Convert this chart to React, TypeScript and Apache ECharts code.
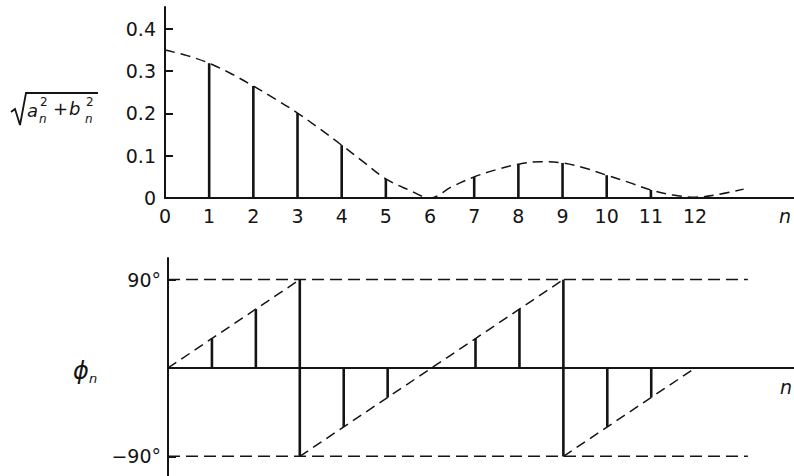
import React, { useEffect, useRef } from "react";
import * as echarts from "echarts";

// Harmonic index n
const harmonics = [1, 2, 3, 4, 5, 6, 7, 8, 9, 10, 11, 12];
// Amplitude spectrum sqrt(a_n^2 + b_n^2)
const amplitude = [0.319, 0.265, 0.201, 0.125, 0.045, 0, 0.05, 0.08, 0.083, 0.054, 0.019, 0];
// Continuous envelope of the amplitude spectrum
const envelopeN = [0, 0.5, 1, 1.5, 2, 2.5, 3, 3.5, 4, 4.5, 5, 5.5, 6, 6.5, 7, 7.5, 8, 8.5, 9, 9.5, 10, 10.5, 11, 11.5, 12, 12.5, 13.1];
const envelopeAmp = [0.35, 0.337, 0.319, 0.294, 0.265, 0.234, 0.201, 0.164, 0.125, 0.085, 0.045, 0.02, 0, 0.027, 0.05, 0.067, 0.08, 0.086, 0.083, 0.071, 0.054, 0.037, 0.019, 0.007, 0.002, 0.008, 0.021];
// Phase spectrum in degrees (±90 marks a jump from +90 to -90)
const phaseDeg = [30, 60, 90, -60, -30, 0, 30, 60, 90, -60, -30, 0];
// Linear-phase trend, wrapped into [-90, 90]
const phaseTrend: number[][][] = [
  [[0, 0], [3, 90]],
  [[3, -90], [9, 90]],
  [[9, -90], [12, 0]],
];
// Dashed limit lines at ±90°
const phaseLimits = [90, -90];
const limitEndN = 13.2;
// Axis tick values
const ampTicks = [0, 0.1, 0.2, 0.3, 0.4];
const nTicks = [0, 1, 2, 3, 4, 5, 6, 7, 8, 9, 10, 11, 12];
const phaseTicks = [-90, 90];

const INK = "#141414";
const FONT = "DejaVu Sans";

function stemItem(params: any, api: any) {
  const x = api.value(0);
  const lo = api.value(1);
  const hi = api.value(2);
  const p1 = api.coord([x, lo]);
  const p2 = api.coord([x, hi]);
  return {
    type: "line",
    shape: { x1: p1[0], y1: p1[1], x2: p2[0], y2: p2[1] },
    style: { stroke: INK, lineWidth: 2.6 },
  };
}

export default function App() {
  const ref = useRef<HTMLDivElement>(null);

  useEffect(() => {
    if (!ref.current) return;
    const chart = echarts.init(ref.current, null, { renderer: "svg" });

    const ampStems = harmonics.map((n, i) => [n, 0, amplitude[i]]);
    const phaseStems = harmonics.map((n, i) => {
      const p = phaseDeg[i];
      if (Math.abs(p) === 90) return [n, -90, 90];
      return [n, Math.min(0, p), Math.max(0, p)];
    });

    const axisLine = { show: true, lineStyle: { color: INK, width: 2 } };
    const labelStyle = { color: INK, fontSize: 19, fontFamily: FONT };

    const series: any[] = [
      {
        type: "custom",
        xAxisIndex: 0,
        yAxisIndex: 0,
        renderItem: stemItem,
        encode: { x: 0, y: [1, 2] },
        data: ampStems,
        silent: true,
      },
      {
        type: "line",
        xAxisIndex: 0,
        yAxisIndex: 0,
        data: envelopeN.map((n, i) => [n, envelopeAmp[i]]),
        smooth: 0.35,
        showSymbol: false,
        lineStyle: { color: INK, width: 1.5, type: [10, 6] },
        silent: true,
      },
      {
        type: "custom",
        xAxisIndex: 1,
        yAxisIndex: 1,
        renderItem: stemItem,
        encode: { x: 0, y: [1, 2] },
        data: phaseStems,
        silent: true,
      },
      ...phaseTrend.map((seg) => ({
        type: "line",
        xAxisIndex: 1,
        yAxisIndex: 1,
        data: seg,
        showSymbol: false,
        lineStyle: { color: INK, width: 1.5, type: [10, 6] },
        silent: true,
      })),
      ...phaseLimits.map((v) => ({
        type: "line",
        xAxisIndex: 1,
        yAxisIndex: 1,
        data: [
          [0, v],
          [limitEndN, v],
        ],
        showSymbol: false,
        lineStyle: { color: INK, width: 1.5, type: [12, 6] },
        silent: true,
      })),
    ];

    const italic = (size: number, weight = "normal") => `italic ${weight} ${size}px "${FONT}"`;
    const text = (t: string, x: number, y: number, font: string) => ({
      type: "text",
      x,
      y,
      silent: true,
      style: { text: t, font, fill: INK, align: "left", verticalAlign: "middle" },
    });

    chart.setOption({
      animation: false,
      backgroundColor: "#ffffff",
      grid: [
        { left: 165, top: 7, width: 629, height: 191 },
        { left: 168, top: 258, width: 626, height: 218 },
      ],
      xAxis: [
        {
          type: "value",
          gridIndex: 0,
          min: 0,
          max: 14.24,
          axisLine,
          axisTick: { show: false },
          splitLine: { show: false },
          axisLabel: { ...labelStyle, customValues: nTicks, margin: 8, hideOverlap: false },
        },
        {
          type: "value",
          gridIndex: 1,
          min: 0,
          max: 14.25,
          axisLine: { ...axisLine, onZero: true },
          axisTick: { show: false },
          splitLine: { show: false },
          axisLabel: { show: false },
        },
      ],
      yAxis: [
        {
          type: "value",
          gridIndex: 0,
          min: 0,
          max: 0.452,
          axisLine,
          axisTick: { show: true, inside: true, length: 8, customValues: ampTicks, lineStyle: { color: INK, width: 2 } },
          splitLine: { show: false },
          axisLabel: {
            ...labelStyle,
            margin: 9,
            customValues: ampTicks,
            formatter: (v: number) => (v === 0 ? "0" : v.toFixed(1)),
          },
        },
        {
          type: "value",
          gridIndex: 1,
          min: -110,
          max: 112,
          axisLine,
          axisTick: { show: true, inside: true, length: 8, customValues: phaseTicks, lineStyle: { color: INK, width: 2 } },
          splitLine: { show: false },
          axisLabel: {
            ...labelStyle,
            margin: 7,
            customValues: phaseTicks,
            formatter: (v: number) => (v < 0 ? "\u2212" : "") + Math.abs(v) + "\u00b0",
          },
        },
      ],
      series,
      graphic: [
        // radical sign over a_n^2 + b_n^2
        {
          type: "polyline",
          silent: true,
          shape: { points: [[11, 112], [15, 109], [20, 125], [26, 93], [98, 93]] },
          style: { stroke: INK, lineWidth: 1.8, fill: null },
        },
        text("a", 27, 110, italic(18)),
        text("2", 40, 102, `normal 12px "${FONT}"`),
        text("n", 39, 119, italic(12)),
        text("+", 53, 108, `normal 18px "${FONT}"`),
        text("b", 69, 108, italic(18)),
        text("2", 86, 102, `normal 12px "${FONT}"`),
        text("n", 85, 119, italic(12)),
        // phase label
        text("\u03d5", 73, 371, italic(24)),
        text("n", 89, 378, italic(13)),
        // axis names
        text("n", 779, 216, italic(19)),
        text("n", 780, 387, italic(19)),
      ],
    });

    return () => chart.dispose();
  }, []);

  return (
    <div
      ref={ref}
      style={{ position: "absolute", left: 0, top: 0, width: 794, height: 476, background: "#fff" }}
    />
  );
}
